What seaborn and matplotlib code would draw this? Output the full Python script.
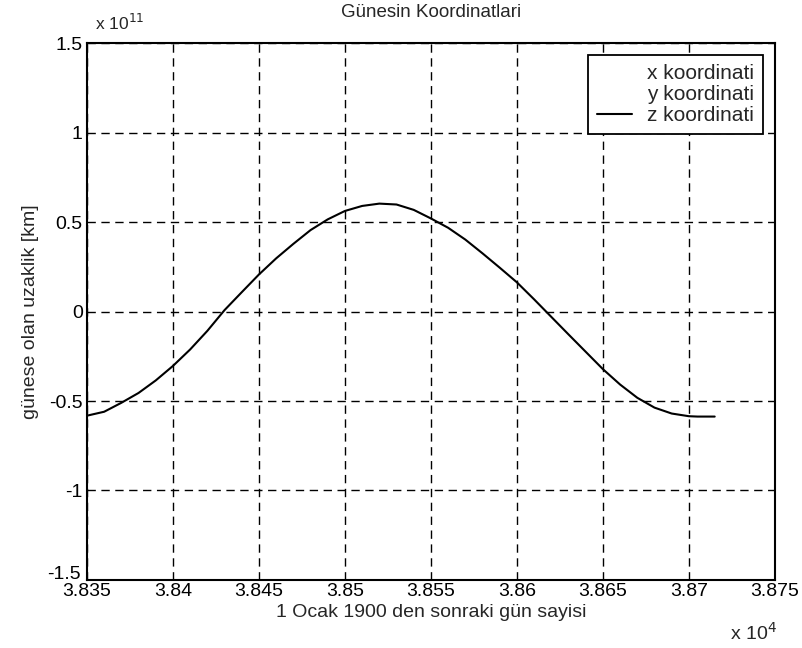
"""Sun z coordinate over one year, MATLAB-style line plot."""
import matplotlib
matplotlib.use("Agg")
import matplotlib.pyplot as plt
import matplotlib.transforms as mtransforms
from matplotlib.lines import Line2D
from matplotlib.ticker import FuncFormatter
import pandas as pd
import seaborn as sns

# days after 1 Jan 1900 and the z coordinate (units of 1e11)
days = [38350, 38360, 38370, 38380, 38390, 38400, 38410, 38420, 38430,
        38440, 38450, 38460, 38470, 38480, 38490, 38500, 38510, 38520,
        38530, 38540, 38550, 38560, 38570, 38580, 38590, 38600, 38610,
        38620, 38630, 38640, 38650, 38660, 38670, 38680, 38690, 38700,
        38705, 38715]
z_coord = [-0.582, -0.560, -0.510, -0.455, -0.385, -0.304, -0.212, -0.108,
           0.008, 0.108, 0.207, 0.297, 0.378, 0.455, 0.515, 0.562, 0.590,
           0.603, 0.598, 0.568, 0.520, 0.468, 0.402, 0.325, 0.245, 0.163,
           0.068, -0.030, -0.128, -0.225, -0.322, -0.408, -0.482, -0.537,
           -0.570, -0.585, -0.587, -0.587]
legend_labels = ["x koordinati", "y koordinati", "z koordinati"]
x_ticks = [38350, 38400, 38450, 38500, 38550, 38600, 38650, 38700, 38750]
y_ticks = [-1.5, -1, -0.5, 0, 0.5, 1, 1.5]

df = pd.DataFrame({"gun": days, "z": z_coord})

sns.set_style("white")
plt.rcParams["font.family"] = ["Liberation Sans", "DejaVu Sans"]

fig = plt.figure(figsize=(8.03, 6.48), dpi=100)
ax = fig.add_axes([0.1083, 0.105, 0.8567, 0.8285])

sns.lineplot(data=df, x="gun", y="z", color="black", linewidth=1.5, ax=ax)

ax.set_xlim(38350, 38750)
ax.set_ylim(-1.5, 1.5)
ax.set_xticks(x_ticks)
ax.set_yticks(y_ticks)
ax.xaxis.set_major_formatter(FuncFormatter(lambda v, p: f"{v / 1e4:g}"))
ax.yaxis.set_major_formatter(FuncFormatter(lambda v, p: f"{v:g}"))
ax.tick_params(direction="in", length=5, width=1, labelsize=14, colors="black")
ax.tick_params(axis="x", pad=2)
ax.tick_params(axis="y", pad=3)
ax.grid(True, color="black", linestyle=(0, (6, 4)), linewidth=1)
for s in ax.spines.values():
    s.set_color("black")
    s.set_linewidth(1.5)

# lift the bottom y label a little, as in the original
fig.canvas.draw()
lift = mtransforms.ScaledTranslation(-0.02, 0.07, fig.dpi_scale_trans)
ylabels = ax.get_yticklabels()
ylabels[0].set_transform(ylabels[0].get_transform() + lift)

ax.set_xlabel("1 Ocak 1900 den sonraki gün sayisi", fontsize=14, labelpad=3)
ax.set_ylabel("günese olan uzaklik [km]", fontsize=14, labelpad=6)
ax.set_title("Günesin Koordinatlari", fontsize=13.5, pad=19)

ax.text(0.012, 1.018, "x 10$^{11}$", transform=ax.transAxes, fontsize=12.5,
        ha="left", va="bottom")
ax.text(1.003, -0.078, "x 10$^{4}$", transform=ax.transAxes, fontsize=14,
        ha="right", va="top")

handles = [Line2D([], [], color="white", linewidth=1.5),
           Line2D([], [], color="white", linewidth=1.5),
           Line2D([], [], color="black", linewidth=1.5)]
leg = ax.legend(handles, legend_labels, loc="upper right", fontsize=15,
                frameon=True, fancybox=False, framealpha=1,
                edgecolor="black", borderaxespad=0.55, handlelength=1.7,
                handletextpad=0.7, labelspacing=0.1, borderpad=0.45)
leg.get_frame().set_linewidth(1.3)

fig.savefig("out.png", dpi=100)
